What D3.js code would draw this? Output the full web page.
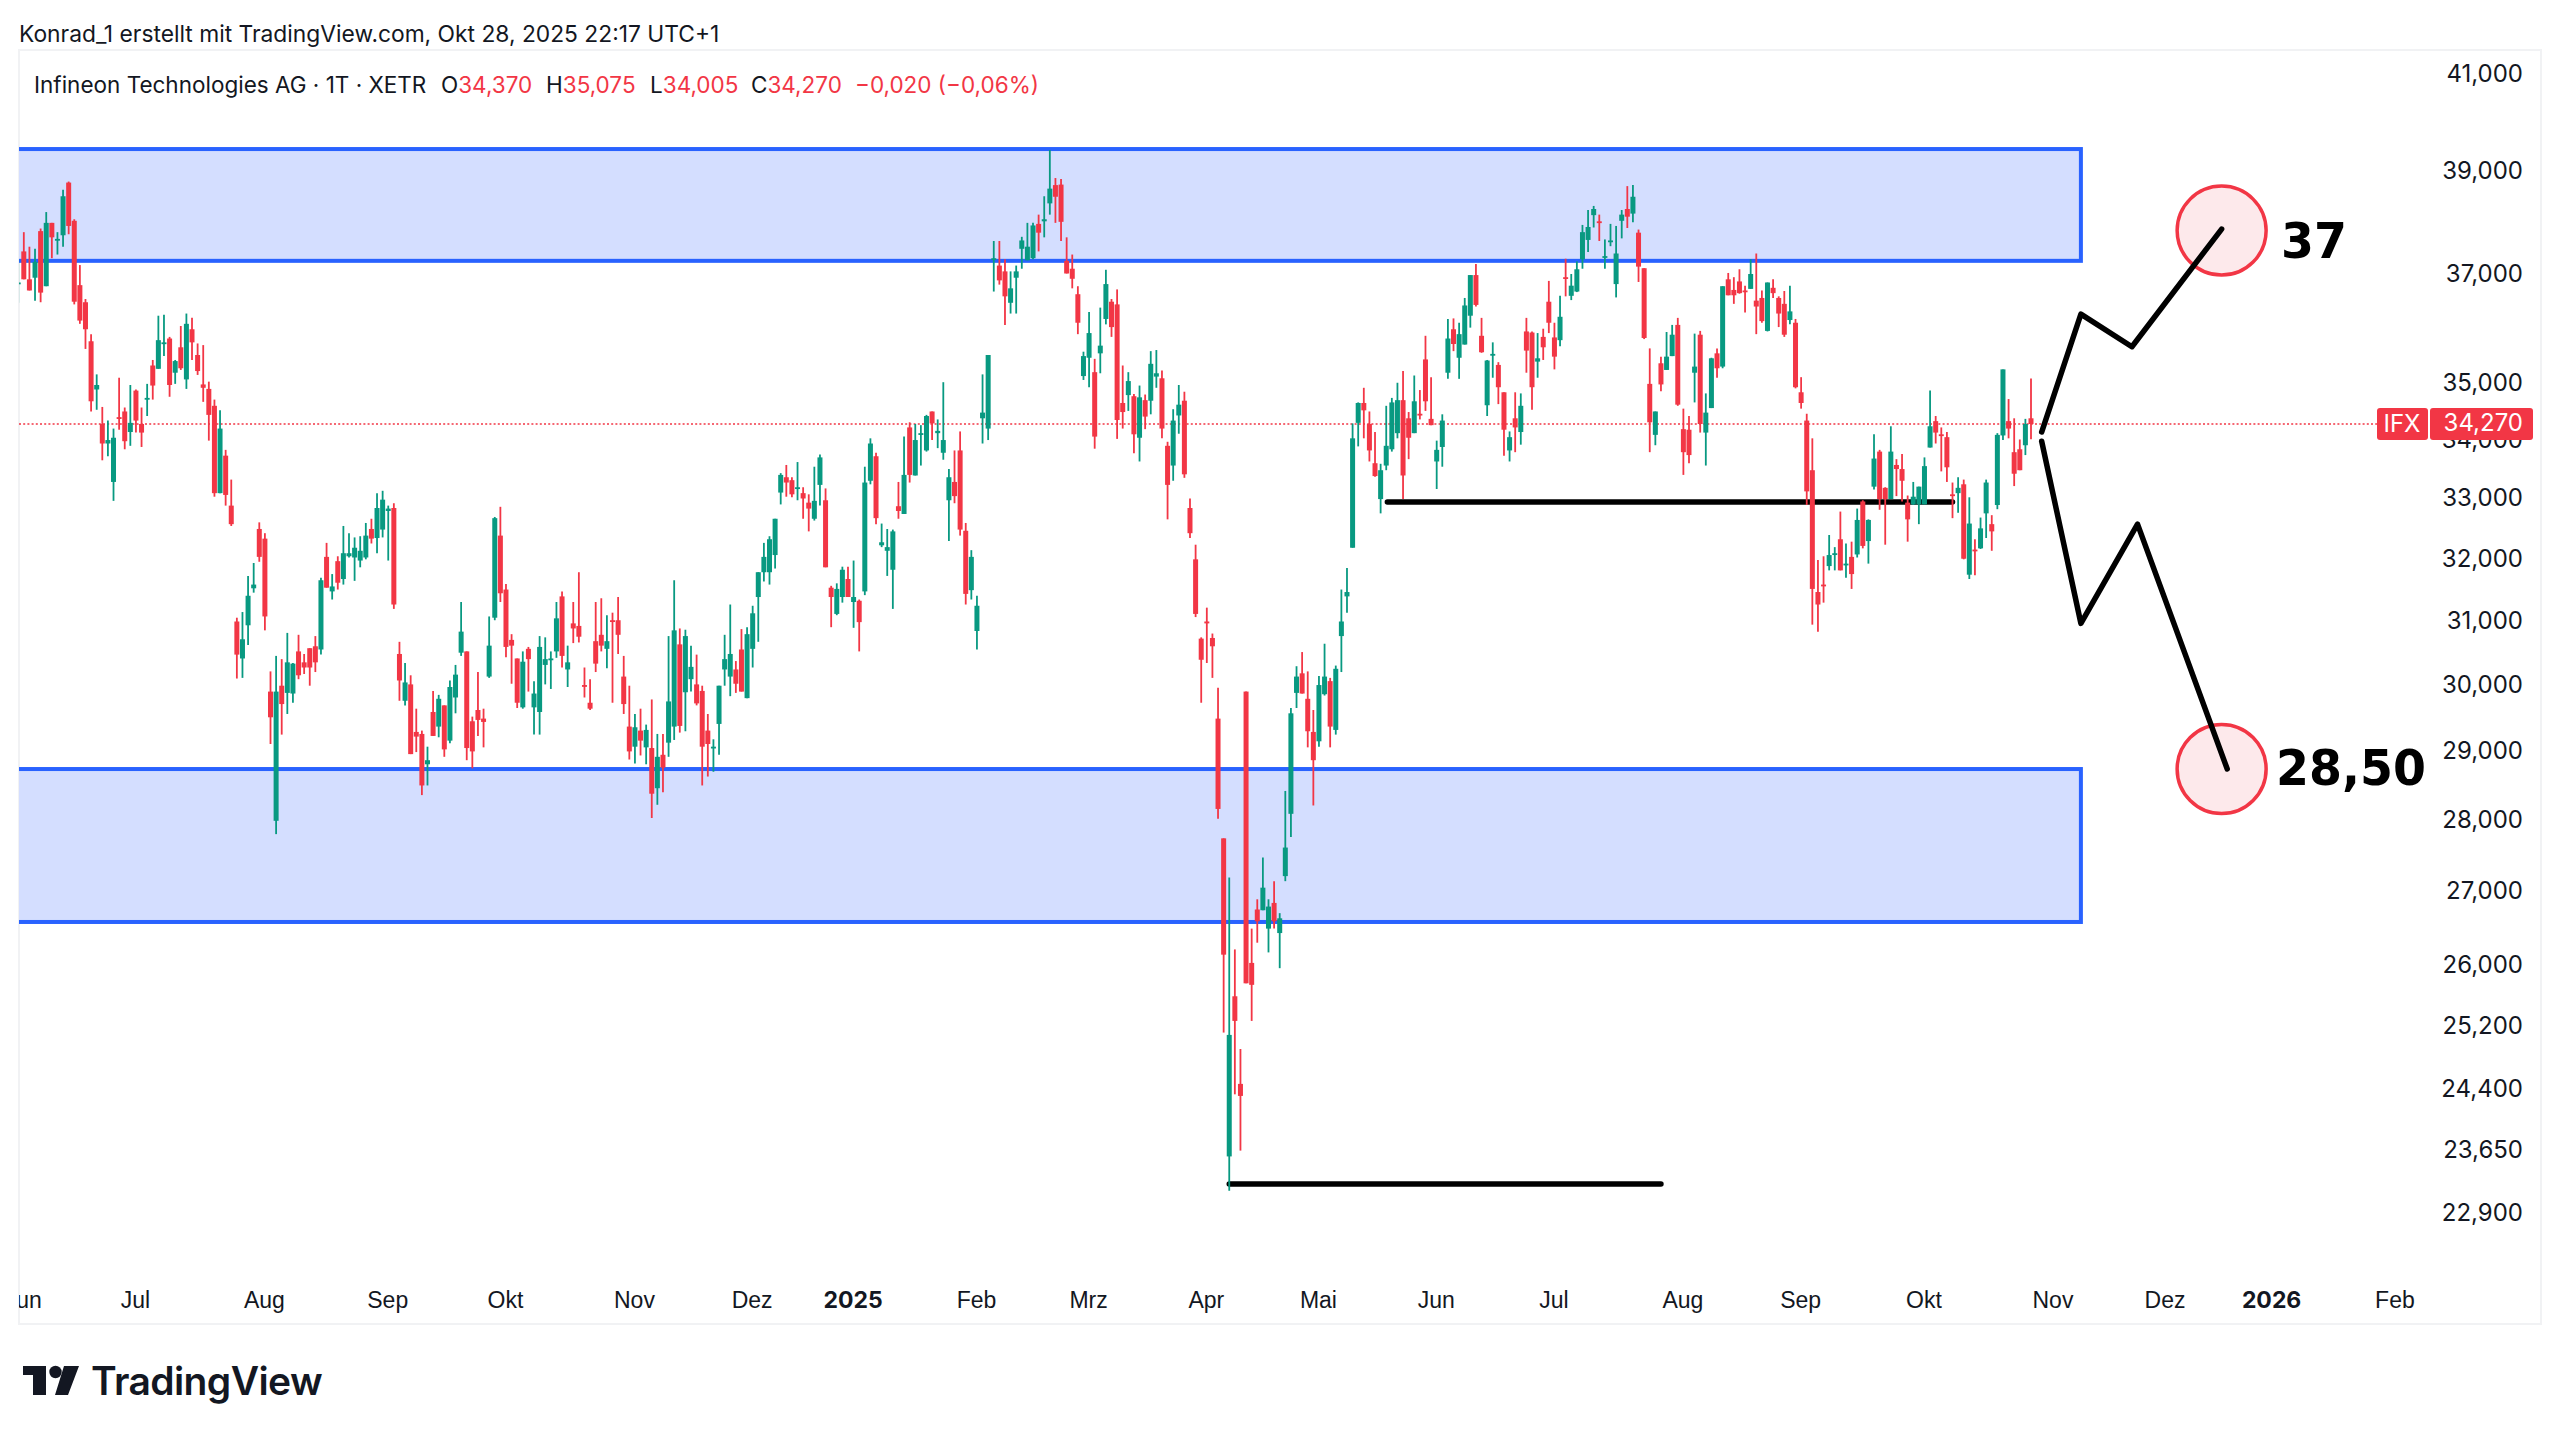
<!DOCTYPE html>
<html>
<head>
<meta charset="utf-8">
<script src="https://cdn.jsdelivr.net/npm/d3@7"></script>
<style>
html,body{margin:0;padding:0;background:#fff}
svg{display:block}
text{font-family:Inter,"Liberation Sans",Arial,sans-serif}
</style>
</head>
<body>
<svg id="graph"></svg>
<script>
var opens=[36.81,37.43,36.90,36.93,37.82,36.77,37.98,37.64,37.74,38.77,
38.02,36.79,36.47,35.75,34.88,34.27,33.93,33.27,34.39,34.49,
34.13,34.86,34.27,34.70,35.31,35.25,35.70,35.80,35.18,35.64,
35.06,35.97,35.50,34.97,34.89,34.59,33.08,33.72,32.87,30.98,
30.40,30.92,31.51,32.48,32.32,29.89,27.98,29.98,29.87,29.86,
30.51,30.34,30.56,30.59,30.54,32.02,31.46,31.95,31.66,32.03,
32.01,31.96,32.01,32.48,32.33,32.47,32.78,32.83,30.47,29.75,
30.00,29.28,29.25,28.80,29.58,29.36,29.68,29.15,29.80,30.49,
30.51,29.44,29.61,29.48,30.12,31.04,32.37,31.49,30.69,30.40,
29.65,30.55,29.65,29.58,30.30,30.39,30.51,31.38,30.23,30.95,
30.91,29.99,29.72,30.67,30.77,30.55,31.00,31.00,30.12,29.36,
29.06,29.30,29.05,29.04,28.45,28.94,29.12,29.36,30.62,29.88,
30.08,30.00,29.90,29.30,29.04,29.40,30.23,30.12,30.23,30.54,
29.79,30.55,31.37,31.77,31.77,32.05,33.09,33.35,33.30,33.16,
33.08,32.92,32.65,33.22,32.96,31.52,31.10,31.37,31.66,31.29,
31.31,31.46,33.29,33.71,32.21,32.12,31.81,32.86,32.73,34.21,
33.38,34.08,33.81,34.49,34.11,33.77,32.96,33.27,33.81,32.45,
31.48,30.83,34.37,34.19,37.28,37.16,37.05,36.46,36.93,37.48,
37.26,37.30,37.96,38.01,38.36,38.72,38.73,37.25,37.10,36.62,
35.12,35.45,35.19,35.53,36.16,36.48,36.43,34.64,34.78,34.76,
34.03,34.69,34.68,35.11,35.08,33.89,33.55,34.42,34.68,32.83,
31.98,30.71,30.98,30.72,29.48,27.73,23.57,25.58,24.46,29.89,
26.02,26.74,26.73,26.48,26.83,26.42,27.20,28.08,29.87,30.17,
29.78,29.28,29.14,29.85,30.05,29.31,30.75,31.38,32.17,34.29,
34.64,34.27,33.59,32.98,33.55,33.83,34.11,34.69,34.37,34.11,
34.45,35.42,34.36,33.62,33.87,35.18,35.97,35.45,35.69,36.22,
36.98,35.85,34.60,35.50,35.32,34.83,33.81,34.37,34.13,35.93,
35.91,35.38,35.83,36.48,35.82,35.77,36.94,36.59,36.67,37.28,
37.65,38.13,38.01,37.32,37.61,36.81,38.02,38.25,38.16,37.79,
37.11,34.98,34.08,35.35,35.23,35.48,36.05,34.18,34.17,35.18,
35.87,34.12,34.55,35.53,35.29,36.90,36.70,36.86,36.69,36.72,
36.50,36.55,35.94,36.74,36.55,36.44,36.14,36.09,34.83,34.33,
33.47,31.45,31.57,31.87,32.06,32.31,31.89,32.02,32.06,32.94,
32.28,33.19,33.79,33.17,32.98,33.56,33.49,32.92,32.89,32.89,
32.89,33.86,34.32,34.09,34.04,33.06,33.08,33.23,31.73,32.14,
32.16,32.74,32.56,32.88,34.07,34.32,33.78,33.83,33.90,34.37]

var highs=[37.28,37.80,37.52,37.48,37.87,38.19,37.98,37.80,38.63,38.79,
38.05,37.17,36.53,35.88,35.15,34.57,34.33,34.19,35.09,34.56,
34.96,34.88,34.56,34.98,35.41,36.22,36.24,35.83,35.41,36.03,
36.26,36.18,35.71,35.68,35.02,34.70,34.51,33.82,33.31,31.04,
31.13,31.71,31.92,32.59,32.41,30.20,30.44,30.39,30.80,30.33,
30.77,30.47,30.56,30.75,31.68,32.25,31.74,32.03,32.53,32.41,
32.34,32.36,32.58,32.65,33.08,33.12,32.87,32.91,30.66,30.33,
30.14,29.63,29.30,29.06,29.90,29.84,29.68,30.06,30.30,31.29,
30.51,29.51,30.19,29.63,31.06,32.68,32.85,31.58,30.78,30.40,
30.51,30.58,30.05,30.75,30.73,30.51,31.29,31.46,30.60,31.29,
31.77,30.26,30.08,31.29,31.35,31.08,31.12,31.37,30.44,29.98,
29.55,29.63,29.39,29.77,29.25,29.25,30.75,31.64,30.87,30.85,
30.60,30.46,29.98,29.55,29.17,29.98,30.77,31.25,30.36,30.86,
30.89,31.23,31.77,32.25,32.36,32.65,33.42,33.56,33.35,33.61,
33.18,33.06,33.53,33.74,33.16,31.55,31.59,31.86,31.86,31.96,
31.33,33.53,34.02,33.77,32.57,32.48,32.47,33.27,34.05,34.30,
34.27,34.25,34.43,34.49,34.35,35.01,33.49,33.81,34.14,32.58,
32.13,31.39,35.15,35.50,37.63,37.63,37.28,37.05,37.16,37.71,
37.98,37.98,38.14,38.50,39.42,38.86,38.84,37.70,37.37,36.77,
35.56,36.29,35.43,36.37,37.08,36.53,36.71,35.31,35.19,34.80,
34.95,34.79,35.57,35.59,35.22,33.96,34.53,34.96,34.84,32.99,
32.22,30.73,31.20,30.79,29.95,27.73,27.18,26.20,24.90,29.89,
26.48,26.88,27.46,26.88,27.13,26.69,28.41,29.64,30.28,30.50,
30.20,29.61,30.13,30.63,30.10,30.29,31.49,31.84,34.28,34.65,
34.91,34.49,34.13,33.58,34.59,34.73,35.00,35.21,34.48,35.13,
34.87,35.85,35.10,33.98,34.44,36.16,36.17,36.09,36.55,36.98,
37.19,36.18,35.41,35.73,35.37,34.83,34.14,34.83,34.81,36.18,
35.93,35.90,35.98,36.87,36.09,36.59,37.29,37.00,37.24,37.94,
38.23,38.31,38.14,37.66,37.96,37.92,38.23,38.70,38.72,37.85,
37.11,35.62,34.49,35.47,35.92,36.05,36.18,34.54,34.41,35.89,
35.94,34.81,35.45,35.62,36.77,37.02,36.94,37.09,36.78,37.28,
37.39,36.69,36.84,36.90,36.58,36.68,36.78,36.16,35.10,34.45,
34.02,31.97,32.03,32.38,32.18,32.77,32.24,32.27,32.82,32.96,
32.64,34.09,33.82,33.18,34.23,33.66,33.75,33.04,33.27,33.19,
33.69,34.86,34.41,34.21,34.13,33.26,33.35,33.31,33.01,32.31,
32.67,33.31,32.71,34.11,35.24,34.71,34.37,34.00,34.36,35.075]

var lows=[36.46,36.90,36.69,36.50,36.47,36.77,37.30,37.37,37.52,37.76,
36.43,36.07,35.61,34.49,34.52,33.64,33.71,32.95,34.17,33.83,
33.89,34.12,33.87,34.41,34.70,35.25,35.48,34.75,34.98,35.23,
34.89,35.41,35.14,34.66,33.98,33.02,33.08,32.87,32.53,30.09,
30.10,30.61,31.44,31.94,30.84,29.10,27.79,29.24,29.55,29.72,
30.08,30.16,29.98,30.19,30.46,31.52,31.33,31.49,31.57,32.01,
31.63,31.85,31.98,32.24,32.08,32.34,31.96,31.18,29.75,29.68,
28.95,28.98,28.35,28.49,29.22,29.20,28.91,29.11,29.56,30.44,
28.86,28.74,29.22,29.05,30.10,31.00,31.29,30.42,30.01,29.64,
29.63,29.89,29.24,29.24,30.00,29.93,30.41,30.26,29.96,30.64,
30.65,29.80,29.61,30.19,30.51,30.25,29.72,30.47,29.55,28.87,
28.81,28.93,28.80,28.02,28.21,28.39,28.91,29.16,29.27,29.29,
29.89,29.68,28.49,28.62,28.69,28.94,29.98,29.82,29.87,29.89,
29.79,30.26,30.66,31.62,31.57,31.83,32.89,33.02,33.01,32.96,
32.65,32.44,32.62,32.87,31.85,30.89,31.08,31.28,31.37,30.88,
30.51,31.40,33.23,32.56,32.18,31.71,31.18,32.65,32.73,33.26,
33.38,33.55,33.79,33.99,33.85,33.65,32.28,32.91,32.37,31.25,
31.33,30.54,33.93,33.99,36.67,36.80,36.05,36.26,36.26,37.10,
37.26,37.28,37.43,37.70,38.14,37.98,37.63,37.01,36.73,35.88,
35.05,34.92,33.84,35.17,36.06,35.83,34.01,34.19,34.50,33.76,
33.62,34.18,34.44,34.91,34.02,32.64,33.29,34.10,33.34,32.33,
31.05,29.72,30.33,30.10,28.01,25.11,23.16,24.33,23.64,25.75,
25.26,26.29,26.73,26.16,26.48,25.95,27.13,27.75,29.64,29.86,
29.05,28.20,29.06,29.83,29.05,29.24,30.19,31.12,32.17,33.88,
34.02,33.62,33.36,32.74,33.47,33.79,34.02,32.98,33.66,34.11,
34.35,34.50,34.25,33.15,33.53,35.07,35.57,35.07,35.69,36.00,
36.39,35.54,34.41,35.09,34.62,33.72,33.62,33.78,33.91,35.18,
34.52,35.09,35.41,35.90,35.24,35.66,36.58,36.51,36.66,37.10,
37.42,37.89,37.63,37.10,37.53,36.56,37.68,37.88,37.99,36.85,
35.79,33.78,33.90,34.85,35.23,35.48,34.59,33.39,33.59,34.65,
34.12,33.55,34.55,35.09,35.26,36.60,36.44,36.63,36.28,36.72,
35.88,36.09,35.93,36.55,36.01,35.83,36.06,34.90,34.54,32.88,
30.93,30.82,31.28,31.80,31.80,31.80,31.68,31.50,32.01,32.16,
31.91,33.14,32.80,32.22,32.98,33.03,32.94,32.27,32.88,32.56,
32.89,33.86,33.93,33.45,33.27,32.66,32.75,31.98,31.66,31.72,
32.15,32.33,32.12,32.81,33.99,34.02,33.20,33.47,33.73,34.005]

var closes=[36.84,36.90,36.69,37.23,36.65,37.98,37.70,37.67,38.50,37.92,
36.48,36.13,35.97,34.67,34.96,33.93,33.99,34.03,34.36,33.97,
34.29,34.33,34.12,34.73,34.95,35.77,35.73,34.96,35.39,35.26,
36.07,35.73,35.21,34.91,34.43,33.08,34.19,33.05,32.56,30.46,
30.70,31.39,31.57,32.02,31.06,29.50,29.89,29.70,30.34,30.32,
30.14,30.26,30.26,30.34,31.64,31.52,31.54,31.60,32.08,32.08,
32.17,32.12,32.37,32.32,32.83,32.97,32.82,31.25,30.06,30.03,
28.95,29.21,28.49,28.86,29.22,29.78,29.02,29.96,30.15,30.82,
29.04,28.99,29.46,29.43,30.60,32.66,31.43,30.58,30.60,29.72,
30.35,30.39,29.86,30.58,30.39,30.40,31.03,30.44,30.34,30.87,
30.74,29.97,29.63,30.32,30.60,30.67,30.98,30.77,29.70,28.99,
29.35,29.15,29.31,28.37,28.91,28.75,29.74,30.84,29.37,30.75,
30.27,29.71,29.06,29.10,29.06,29.98,30.39,30.47,30.01,29.89,
30.78,31.11,31.77,32.02,32.31,32.65,33.39,33.26,33.06,33.18,
32.99,32.82,32.95,33.69,31.85,31.37,31.50,31.81,31.37,31.37,
30.97,33.26,33.93,32.66,32.26,32.18,32.44,32.78,33.39,33.39,
33.99,34.11,34.41,34.28,34.15,33.99,33.35,33.03,32.47,31.42,
32.02,31.23,34.47,35.50,37.30,36.88,36.58,36.73,37.05,37.64,
37.52,37.93,37.79,38.05,38.65,38.49,38.00,37.01,36.91,36.09,
35.48,35.90,34.05,35.67,36.81,36.01,34.34,34.48,35.03,34.09,
34.74,34.40,35.34,35.17,34.19,33.22,34.33,34.61,33.40,32.41,
31.10,30.38,30.95,30.59,28.15,26.13,25.08,25.26,24.31,25.75,
25.73,26.58,27.04,26.78,26.58,26.62,27.60,29.56,30.12,29.86,
29.29,28.86,29.99,30.12,29.36,30.24,30.98,31.45,34.02,34.64,
34.51,33.81,33.37,33.47,33.89,34.65,34.69,33.38,34.03,34.67,
34.43,34.67,34.25,33.82,34.33,35.80,35.70,35.88,36.41,36.98,
36.42,35.55,35.40,35.52,34.92,34.17,34.04,34.21,34.59,35.58,
34.92,35.44,35.64,36.09,35.47,36.20,36.92,36.78,37.09,37.80,
37.90,38.25,37.99,37.34,37.64,37.39,38.14,38.10,38.49,37.14,
35.81,34.30,34.49,34.97,35.47,35.87,34.61,33.78,33.73,35.29,
34.27,34.47,35.44,35.26,36.77,36.60,36.60,36.64,36.66,37.00,
36.39,36.12,36.84,36.64,36.26,35.87,36.30,34.92,34.64,33.11,
31.50,31.25,31.56,32.05,32.08,31.80,31.91,31.74,32.63,32.20,
32.63,33.67,32.98,32.98,33.79,33.49,33.29,32.64,33.02,33.19,
33.54,34.23,34.12,34.06,33.52,33.05,33.17,31.99,32.57,32.12,
32.49,33.26,32.44,34.08,35.24,34.19,33.41,33.47,34.27,34.27]

// axis labels
var priceTicks=[41,39,37,35,34,33,32,31,30,29,28,27,26,25.2,24.4,23.65,22.9]
var monthBars=[1,21,44,66,87,110,131,149,171,191,212,232,253,274,297,318,340,363,383,402,424]
var monthLabels=["Jun","Jul","Aug","Sep","Okt","Nov","Dez","2025","Feb","Mrz","Apr","Mai","Jun","Jul","Aug","Sep","Okt","Nov","Dez","2026","Feb"]

// drawings on the chart, in bar index and price
var lastPrice=34.27
var zoneHighs=[39.44,28.73]
var zoneLows=[37.25,26.57]
var zoneEndBar=367.9
var levelPrices=[32.93,23.24]
var levelStartBars=[244.2,216]
var levelEndBars=[345,293]
var upBars=[360.9,367.9,377,393]
var upPrices=[34.13,36.25,35.65,37.86]
var downBars=[360.9,367.9,378,394]
var downPrices=[33.97,30.95,32.56,28.73]
var targetPrices=[37.83,28.73]
var targetLabels=["37","28,50"]
var targetBar=393

var green="#089981"
var red="#f23645"
var ink="#131722"

var screen={width:2560,height:1438}
var panel={left:19,right:2541,top:50,bottom:1324}

var svg=d3.select("#graph")
    .attr("width",screen.width)
    .attr("height",screen.height)

var xScale=d3.scaleLinear()
    .domain([0,359])
    .range([18.2,2031])

var yScale=d3.scaleLog()
    .domain([39,28])
    .range([171,819.4])

svg.append("clipPath")
    .attr("id","plot")
    .append("rect")
    .attr("x",panel.left)
    .attr("y",panel.top)
    .attr("width",panel.right-panel.left)
    .attr("height",panel.bottom-panel.top)

svg.append("rect")
    .attr("x",panel.left)
    .attr("y",panel.top)
    .attr("width",panel.right-panel.left)
    .attr("height",panel.bottom-panel.top)
    .attr("fill","#fff")
    .attr("stroke","#f1f2f4")
    .attr("stroke-width",2)

var plot=svg.append("g").attr("clip-path","url(#plot)")

var drawZones=function()
{
    plot.selectAll(".zone")
    .data(zoneHighs)
    .enter()
    .append("rect")
    .attr("class","zone")
    .attr("x",xScale(-20))
    .attr("y",function(d){return yScale(d)})
    .attr("width",xScale(zoneEndBar)-xScale(-20))
    .attr("height",function(d,i){return yScale(zoneLows[i])-yScale(d)})
    .attr("fill","#d4deff")
    .attr("stroke","#2962ff")
    .attr("stroke-width",4)
}

var drawLevels=function()
{
    plot.selectAll(".level")
    .data(levelPrices)
    .enter()
    .append("line")
    .attr("class","level")
    .attr("x1",function(d,i){return xScale(levelStartBars[i])})
    .attr("x2",function(d,i){return xScale(levelEndBars[i])})
    .attr("y1",function(d){return yScale(d)})
    .attr("y2",function(d){return yScale(d)})
    .attr("stroke","#000")
    .attr("stroke-width",5.5)
    .attr("stroke-linecap","round")
}

var drawPriceLine=function()
{
    plot.append("line")
    .attr("x1",panel.left)
    .attr("x2",2377)
    .attr("y1",yScale(lastPrice))
    .attr("y2",yScale(lastPrice))
    .attr("stroke",red)
    .attr("stroke-width",1.6)
    .attr("stroke-dasharray","2 2.2")
}

var drawCandles=function()
{
    var bars=d3.range(opens.length)
    var color=function(i){return closes[i]>=opens[i]?green:red}

    plot.selectAll(".wick")
    .data(bars)
    .enter()
    .append("line")
    .attr("class","wick")
    .attr("x1",function(i){return xScale(i)})
    .attr("x2",function(i){return xScale(i)})
    .attr("y1",function(i){return yScale(highs[i])})
    .attr("y2",function(i){return yScale(lows[i])})
    .attr("stroke",color)
    .attr("stroke-width",1.8)

    plot.selectAll(".body")
    .data(bars)
    .enter()
    .append("rect")
    .attr("class","body")
    .attr("x",function(i){return xScale(i)-2.5})
    .attr("width",5)
    .attr("y",function(i){return yScale(Math.max(opens[i],closes[i]))})
    .attr("height",function(i){return Math.max(1.8,Math.abs(yScale(opens[i])-yScale(closes[i])))})
    .attr("fill",color)
}

var drawTargets=function()
{
    plot.selectAll(".target")
    .data(targetPrices)
    .enter()
    .append("circle")
    .attr("class","target")
    .attr("cx",xScale(targetBar))
    .attr("cy",function(d){return yScale(d)})
    .attr("r",44.5)
    .attr("fill","#fde9eb")
    .attr("stroke",red)
    .attr("stroke-width",3.5)

    var path=d3.line()
    .x(function(d){return xScale(d[0])})
    .y(function(d){return yScale(d[1])})

    plot.append("path")
    .attr("d",path(d3.zip(upBars,upPrices)))
    .attr("fill","none")
    .attr("stroke","#000")
    .attr("stroke-width",5.5)
    .attr("stroke-linecap","round")
    .attr("stroke-linejoin","round")

    plot.append("path")
    .attr("d",path(d3.zip(downBars,downPrices)))
    .attr("fill","none")
    .attr("stroke","#000")
    .attr("stroke-width",5.5)
    .attr("stroke-linecap","round")
    .attr("stroke-linejoin","round")

    plot.selectAll(".targetLabel")
    .data(targetLabels)
    .enter()
    .append("text")
    .attr("class","targetLabel")
    .attr("x",function(d,i){return i==0?2281:2276})
    .attr("y",function(d,i){return i==0?258:785})
    .attr("textLength",function(d,i){return i==0?66:150})
    .attr("lengthAdjust","spacingAndGlyphs")
    .attr("fill","#000")
    .style("font-family","'DejaVu Sans'")
    .style("font-weight","700")
    .style("font-size","50px")
    .text(function(d){return d})
}

var drawAxes=function()
{
    var yAxis=d3.axisRight(yScale)
    .tickValues(priceTicks)
    .tickSize(0)
    .tickFormat(function(d){return d3.format(",")(Math.round(d*1000))})

    var yGroup=svg.append("g")
    .attr("transform","translate(2523,-0.5)")
    .call(yAxis)
    yGroup.select(".domain").remove()
    yGroup.selectAll("text")
    .attr("x",0)
    .attr("dy","0.35em")
    .attr("text-anchor","end")
    .attr("fill",ink)
    .style("font-family","Inter")
    .style("font-size","24px")

    var xAxis=d3.axisBottom(xScale)
    .tickValues(monthBars)
    .tickSize(0)
    .tickFormat(function(d,i){return monthLabels[i]})

    var xGroup=svg.append("g").attr("clip-path","url(#plot)")
    .append("g")
    .attr("transform","translate(-1,1308)")
    .call(xAxis)
    xGroup.select(".domain").remove()
    xGroup.selectAll("text")
    .attr("y",0)
    .attr("dy",0)
    .attr("fill",ink)
    .style("font-family",function(d,i){return monthLabels[i].length==4?"Inter":"'Liberation Sans'"})
    .style("font-size","23px")
    .style("font-weight",function(d,i){return monthLabels[i].length==4?"700":"400"})
}

var drawPriceTag=function()
{
    var tag=yScale(lastPrice)
    svg.append("rect")
    .attr("x",2377).attr("y",tag-16).attr("width",51).attr("height",32).attr("rx",3)
    .attr("fill",red)
    svg.append("rect")
    .attr("x",2430).attr("y",tag-16).attr("width",103).attr("height",32).attr("rx",3)
    .attr("fill",red)
    svg.append("text")
    .attr("x",2402).attr("y",tag+8.5).attr("text-anchor","middle").attr("fill","#fff")
    .style("font-size","24px").text("IFX")
    svg.append("text")
    .attr("x",2523).attr("y",tag+7).attr("text-anchor","end").attr("fill","#fff")
    .style("font-size","24px").text(d3.format(",")(lastPrice*1000))
}

var drawHeader=function()
{
    svg.append("text")
    .attr("x",19).attr("y",42).attr("fill",ink)
    .style("font-size","22.8px")
    .text("Konrad_1 erstellt mit TradingView.com, Okt 28, 2025 22:17 UTC+1")

    svg.append("text")
    .attr("x",34).attr("y",93).attr("fill",ink)
    .style("font-size","22.5px")
    .text("Infineon Technologies AG \u00b7 1T \u00b7 XETR")

    var labels=["O","H","L","C"]
    var values=[opens,highs,lows,closes].map(function(s){return d3.format(".3f")(s[s.length-1]).replace(".",",")})
    var labelX=[441,546,650,751]
    labels.forEach(function(l,i)
    {
        var t=svg.append("text")
        .attr("x",labelX[i]).attr("y",93).attr("fill",ink)
        .style("font-size","22.5px")
        t.append("tspan").text(l)
        t.append("tspan").attr("fill",red).text(values[i])
    })
    svg.append("text")
    .attr("x",855).attr("y",93).attr("fill",red)
    .style("font-size","22.5px")
    .text("\u22120,020 (\u22120,06%)")
}

var drawLogo=function()
{
    svg.append("path")
    .attr("d","M23 1366H46V1395H33V1375H23ZM64 1366H79L68 1395H55Z")
    .attr("fill","#131722")
    svg.append("circle")
    .attr("cx",55.5).attr("cy",1372).attr("r",6.2)
    .attr("fill","#131722")
    svg.append("text")
    .attr("x",91).attr("y",1395).attr("fill","#131722")
    .style("font-family","Inter")
    .style("font-weight","600")
    .style("font-size","39px")
    .style("letter-spacing","-0.6px")
    .text("TradingView")
}

drawZones()
drawLevels()
drawPriceLine()
drawCandles()
drawTargets()
drawAxes()
drawPriceTag()
drawHeader()
drawLogo()
</script>
</body>
</html>
